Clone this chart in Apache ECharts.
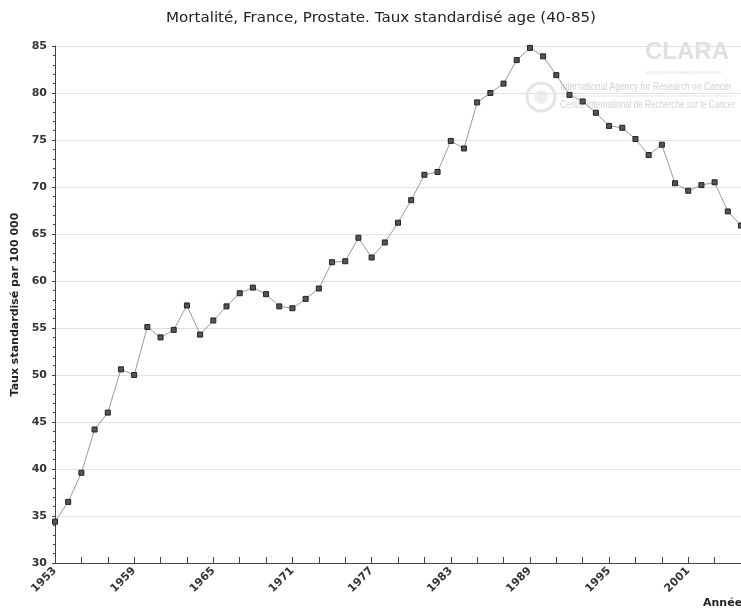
<!DOCTYPE html>
<html>
<head>
<meta charset="utf-8">
<script src="https://cdn.jsdelivr.net/npm/echarts@6/dist/echarts.min.js"></script>
<style>
  html, body { margin: 0; padding: 0; background: #fff; }
  #chart { width: 741px; height: 610px; }
</style>
</head>
<body>
<div id="chart"></div>
<script>
// years on the x axis, one point per year
const YEARS = [];
for (let y = 1953; y <= 2005; y++) YEARS.push(String(y));

// standardised mortality rate per 100 000
const RATES = [34.4, 36.5, 39.6, 44.2, 46.0, 50.6, 50.0, 55.1, 54.0, 54.8,
    57.4, 54.3, 55.8, 57.3, 58.7, 59.3, 58.6, 57.3, 57.1, 58.1,
    59.2, 62.0, 62.1, 64.6, 62.5, 64.1, 66.2, 68.6, 71.3, 71.6,
    74.9, 74.1, 79.0, 80.0, 81.0, 83.5, 84.8, 83.9, 81.9, 79.8,
    79.1, 77.9, 76.5, 76.3, 75.1, 73.4, 74.5, 70.4, 69.6, 70.2,
    70.5, 67.4, 65.9];

const TITLE = 'Mortalité, France, Prostate. Taux standardisé age (40-85)';
const FONT = 'DejaVu Sans';

function launchChart() {
    const dom = document.getElementById('chart');
    const chart = echarts.init(dom, null, { renderer: 'canvas' });

    const option = {
        backgroundColor: '#fff',
        animation: false,
        grid: { left: 55, top: 46, bottom: 47, right: -3, containLabel: false },
        graphic: [
            // title, drawn a bit wide like the original
            { type: 'text', x: 381, y: 11, scaleX: 1.08,
              style: { text: TITLE, fontFamily: FONT, fontSize: 14, fill: '#222',
                       align: 'center', verticalAlign: 'top' } },
            // faint CLARA / IARC watermark
            { type: 'text', x: 645, y: 40, z: 0,
              style: { text: 'CLARA', fontFamily: 'Liberation Sans', fontSize: 24, fontWeight: 'bold',
                       fill: '#e0e0e0', verticalAlign: 'top' } },
            { type: 'text', x: 646, y: 71, z: 0, scaleX: 0.8,
              style: { text: 'ENCYCLOPÉDIE DES AGENCES DE RECHERCHE', fontFamily: 'Liberation Sans', fontSize: 4,
                       fill: '#dcdcdc', verticalAlign: 'top' } },
            { type: 'circle', shape: { cx: 541, cy: 97, r: 14 }, z: 0,
              style: { fill: 'none', stroke: '#e4e4e4', lineWidth: 3 } },
            { type: 'circle', shape: { cx: 541, cy: 97, r: 7 }, z: 0,
              style: { fill: '#eeeeee', stroke: 'none' } },
            { type: 'text', x: 560, y: 81, z: 0, scaleX: 0.78,
              style: { text: 'International Agency for Research on Cancer', fontFamily: 'Liberation Sans', fontSize: 11,
                       fill: '#d2d2d2', verticalAlign: 'top' } },
            { type: 'line', shape: { x1: 560, y1: 96, x2: 736, y2: 96 }, z: 0,
              style: { stroke: '#e6e6e6', lineWidth: 1 } },
            { type: 'text', x: 560, y: 99, z: 0, scaleX: 0.74,
              style: { text: 'Centre International de Recherche sur le Cancer', fontFamily: 'Liberation Sans', fontSize: 11,
                       fill: '#d2d2d2', verticalAlign: 'top' } },
            // x axis title, partly cut by the right edge
            { type: 'text', x: 703, y: 598,
              style: { text: 'Année', fontFamily: FONT, fontSize: 11, fontWeight: 'bold', fill: '#222', verticalAlign: 'top' } }
        ],
        xAxis: {
            type: 'category',
            data: YEARS,
            boundaryGap: false,
            axisLine: { lineStyle: { color: '#444', width: 1 } },
            axisTick: { inside: true, length: 6, interval: 1, lineStyle: { color: '#444' } },
            axisLabel: {
                interval: 5, rotate: 45, margin: 6,
                fontFamily: FONT, fontSize: 11, fontWeight: 'bold', color: '#333'
            },
            splitLine: { show: false }
        },
        yAxis: {
            type: 'value',
            min: 30, max: 85, interval: 5,
            name: 'Taux standardisé par 100 000',
            nameLocation: 'middle',
            nameGap: 32,
            nameTextStyle: { fontFamily: FONT, fontSize: 11, fontWeight: 'bold', color: '#222' },
            axisLine: { show: true, lineStyle: { color: '#444', width: 1 } },
            axisTick: { show: true, inside: false, length: 3, lineStyle: { color: '#444' } },
            minorTick: { show: true, splitNumber: 5, length: 2, lineStyle: { color: '#444' } },
            axisLabel: { margin: 8, fontFamily: FONT, fontSize: 11, fontWeight: 'bold', color: '#333' },
            splitLine: { show: true, lineStyle: { color: '#e2e2e2', width: 1 } }
        },
        series: [{
            type: 'line',
            data: RATES,
            clip: true,
            symbol: 'rect',
            symbolSize: 5,
            lineStyle: { color: '#9a9a9a', width: 1 },
            itemStyle: { color: '#555', borderColor: '#222', borderWidth: 1 },
            z: 3
        }]
    };
    chart.setOption(option);
}

launchChart();
</script>
</body>
</html>
